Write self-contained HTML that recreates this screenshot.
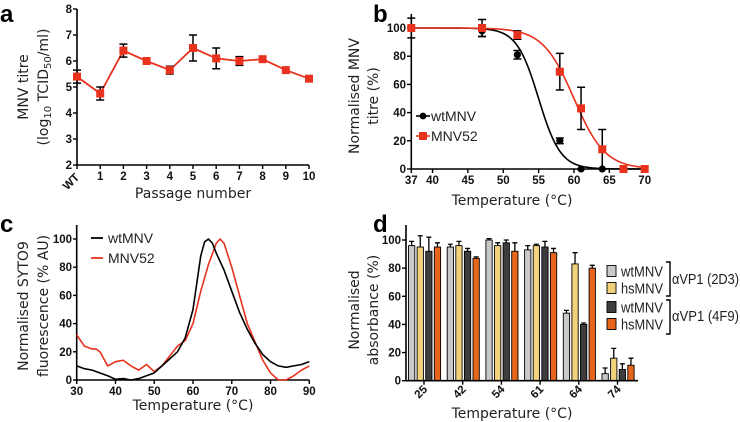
<!DOCTYPE html>
<html><head><meta charset="utf-8">
<style>
html,body{margin:0;padding:0;background:#fff;}
svg{display:block;font-family:"Liberation Sans",sans-serif;}
.tk{font-size:11.5px;font-weight:bold;fill:#111;}
.tt{font-size:14px;fill:#222;font-family:"DejaVu Sans",sans-serif;}
.pl{font-size:24px;font-weight:bold;fill:#000;}
.lg{font-size:14px;fill:#222;}
.lg2{font-size:15px;fill:#222;}
</style></head>
<body>
<svg id="fig" width="740" height="422" viewBox="0 0 740 422" xmlns="http://www.w3.org/2000/svg">
<g id="A"></g>
<g id="B"></g>
<g id="C"></g>
<g id="D"></g>
</svg>
<script>
// ---- Panel a data
const aPassages = ["WT","1","2","3","4","5","6","7","8","9","10"];
const aTitre = [5.4,4.75,6.4,6.0,5.65,6.5,6.1,6.0,6.07,5.65,5.32];
const aErr = [0.25,0.25,0.25,0,0.15,0.5,0.4,0.17,0,0,0];
const aYTicks = [2,3,4,5,6,7,8];
// ---- Panel b data
const bTemps = [37,47,52,58,61,64,67,70];
const bWt = [100,98,81,20,0,0,0,0];
const bWtErr = [7,4,3,2,0,0,0,0];
const bM52 = [100,100,95,69,43,14,0,0];
const bM52Err = [0,6,3,13,15,14,0,0];
const bXTicks = [37,40,45,50,55,60,65,70];
const bYTicks = [0,20,40,60,80,100];
const bFitWt = [55,1.55];
const bFitM52 = [60,2.2];
// ---- Panel c data
const cTempW = [30,32,34,36,38,40,42,44,46,48,50,52,54,56,58,60,62,63,64,65,66,68,70,72,74,76,78,80,82,84,86,88,90];
const cWt = [10,8,7,5,3,0.5,1,0,1,3,5,10,15,20,30,50,88,98,100,97,90,78,63,48,36,26,18,13,10,9,10,11,13];
const cTempR = [30,32,34,35,36,38,40,42,44,46,48,50,52,54,56,58,60,62,64,66,67,68,70,72,74,76,78,80,82,84,86,88,90];
const cM52 = [32,24,22,22,20,10,13,14,10,7,11,6,10,17,24,28,40,63,82,97,100,97,80,60,40,27,14,5,0,0,3,7,10];
const cXTicks = [30,40,50,60,70,80,90];
const cYTicks = [0,20,40,60,80,100];
// ---- Panel d data
const dGroups = ["25","42","54","61","64","74"];
const dWt2D3 = [96,95,100,93,48,5];
const dWt2D3Err = [3,2,1,3,2,4];
const dHs2D3 = [95,96,96,96,83,16];
const dHs2D3Err = [8,3,2,1,8,7];
const dWt4F9 = [92,92,98,95,40,8];
const dWt4F9Err = [10,2,2,4,1,4];
const dHs4F9 = [95,87,92,91,80,11];
const dHs4F9Err = [3,1,6,3,2,5];
const dYTicks = [0,20,40,60,80,100];

const NS="http://www.w3.org/2000/svg";
function el(parent,tag,attrs,text){const e=document.createElementNS(NS,tag);for(const k in attrs)e.setAttribute(k,attrs[k]);if(text!==undefined)e.textContent=text;parent.appendChild(e);return e;}
const RED="#e8321e";

// ===== Panel A
(function(){
const g=document.getElementById('A');
const x=i=>77+i*23.2, y=v=>165-(v-2)*26;
const t=el(g,'text',{x:0,y:22,class:'pl'},'a');

let ax=el(g,'path',{d:`M77,9V165H309`,stroke:'#000','stroke-width':1.6,fill:'none'});

aYTicks.forEach(v=>{el(g,'line',{x1:73,x2:77,y1:y(v),y2:y(v),stroke:'#000','stroke-width':1.4});
 const l=el(g,'text',{x:72,y:y(v)+4,class:'tk','text-anchor':'end'},v);
 });
aPassages.forEach((p,i)=>{el(g,'line',{x1:x(i),x2:x(i),y1:165,y2:169,stroke:'#000','stroke-width':1.4});
 let l;
 if(i===0) l=el(g,'text',{x:x(i)+3,y:178,class:'tk','text-anchor':'end',transform:`rotate(-45 ${x(i)+3} 178)`},p);
 else l=el(g,'text',{x:x(i),y:180,class:'tk','text-anchor':'middle'},p);
 });
const ln=el(g,'polyline',{points:aTitre.map((v,i)=>x(i)+','+y(v)).join(' '),stroke:RED,'stroke-width':1.8,fill:'none'});

aTitre.forEach((v,i)=>{if(aErr[i]>0){const e=aErr[i];
 el(g,'path',{d:`M${x(i)},${y(v+e)}V${y(v-e)}M${x(i)-4},${y(v+e)}h8M${x(i)-4},${y(v-e)}h8`,stroke:'#000','stroke-width':1.5,fill:'none'});}
 const m=el(g,'rect',{x:x(i)-4,y:y(v)-4,width:8,height:8,fill:RED});
 });
let tt=el(g,'text',{x:193,y:198,class:'tt','text-anchor':'middle'},'Passage number');

tt=el(g,'text',{x:0,y:0,class:'tt','text-anchor':'middle',transform:'translate(28,87) rotate(-90)'},'MNV titre');

tt=el(g,'text',{x:0,y:0,class:'tt','text-anchor':'middle',transform:'translate(48,87) rotate(-90)'});

tt.innerHTML='(log<tspan font-size="10" dy="3">10</tspan><tspan dy="-3"> TCID</tspan><tspan font-size="10" dy="3">50</tspan><tspan dy="-3">/ml)</tspan>';
})();

// ===== Panel B
(function(){
const g=document.getElementById('B');
const x=v=>411.3+(v-37)*(233.4/33), y=v=>169-v*1.41;
let t=el(g,'text',{x:373,y:22,class:'pl'},'b');

let ax=el(g,'path',{d:`M411.3,14V169H645`,stroke:'#000','stroke-width':1.6,fill:'none'});

bYTicks.forEach(v=>{el(g,'line',{x1:407,x2:411,y1:y(v),y2:y(v),stroke:'#000','stroke-width':1.4});
 const l=el(g,'text',{x:406,y:y(v)+4,class:'tk','text-anchor':'end'},v);
 });
bXTicks.forEach(v=>{el(g,'line',{x1:x(v),x2:x(v),y1:169,y2:173,stroke:'#000','stroke-width':1.4});
 const l=el(g,'text',{x:x(v),y:184,class:'tk','text-anchor':'middle'},v);
 });
function fit(p,col,name){let pts=[];for(let T=37;T<=70;T+=0.25){pts.push(x(T)+','+y(100/(1+Math.exp((T-p[0])/p[1]))));}
 const c=el(g,'polyline',{points:pts.join(' '),stroke:col,'stroke-width':1.6,fill:'none'});
 }
fit(bFitWt,'#000','wtmnv-fit-curve');fit(bFitM52,RED,'mnv52-fit-curve');
function pts(vals,errs,col,sq,name){vals.forEach((v,i)=>{const T=bTemps[i],e=errs[i];
 if(e>0)el(g,'path',{d:`M${x(T)},${y(v+e)}V${y(v-e)}M${x(T)-4},${y(v+e)}h8M${x(T)-4},${y(v-e)}h8`,stroke:'#000','stroke-width':1.5,fill:'none'});
 const m=sq?el(g,'rect',{x:x(T)-4,y:y(v)-4,width:8,height:8,fill:col}):el(g,'circle',{cx:x(T),cy:y(v),r:3.6,fill:col});
 });}
pts(bWt,bWtErr,'#000',false,'wtmnv-point');pts(bM52,bM52Err,RED,true,'mnv52-point');
const lg=el(g,'g',{});
el(lg,'line',{x1:416,x2:430,y1:116,y2:116,stroke:'#000','stroke-width':1.6});el(lg,'circle',{cx:423,cy:116,r:3.4,fill:'#000'});
el(lg,'text',{x:431,y:121,class:'lg'},'wtMNV');
el(lg,'line',{x1:416,x2:430,y1:136,y2:136,stroke:RED,'stroke-width':1.6});el(lg,'rect',{x:419,y:132,width:8,height:8,fill:RED});
el(lg,'text',{x:431,y:141,class:'lg'},'MNV52');
let tt=el(g,'text',{x:512,y:205,class:'tt','text-anchor':'middle'},'Temperature (°C)');

tt=el(g,'text',{x:0,y:0,class:'tt','text-anchor':'middle',transform:'translate(359,96) rotate(-90)'},'Normalised MNV');

tt=el(g,'text',{x:0,y:0,class:'tt','text-anchor':'middle',transform:'translate(378,96) rotate(-90)'},'titre (%)');

})();

// ===== Panel C
(function(){
const g=document.getElementById('C');
const x=v=>76.7+(v-30)*(232.6/60), y=v=>380-v*1.41;
let t=el(g,'text',{x:0,y:232,class:'pl'},'c');

let ax=el(g,'path',{d:`M76.7,225V380H309.3`,stroke:'#000','stroke-width':1.6,fill:'none'});

cYTicks.forEach(v=>{el(g,'line',{x1:73,x2:77,y1:y(v),y2:y(v),stroke:'#000','stroke-width':1.4});
 const l=el(g,'text',{x:72,y:y(v)+4,class:'tk','text-anchor':'end'},v);
 });
cXTicks.forEach(v=>{el(g,'line',{x1:x(v),x2:x(v),y1:380,y2:384,stroke:'#000','stroke-width':1.4});
 const l=el(g,'text',{x:x(v),y:395,class:'tk','text-anchor':'middle'},v);
 });
let c=el(g,'polyline',{points:cM52.map((v,i)=>x(cTempR[i])+','+y(v)).join(' '),stroke:RED,'stroke-width':1.6,fill:'none','stroke-linejoin':'round'});

c=el(g,'polyline',{points:cWt.map((v,i)=>x(cTempW[i])+','+y(v)).join(' '),stroke:'#000','stroke-width':1.6,fill:'none','stroke-linejoin':'round'});

const lg=el(g,'g',{});
el(lg,'line',{x1:91,x2:103,y1:238,y2:238,stroke:'#000','stroke-width':1.8});
el(lg,'text',{x:108,y:243,class:'lg'},'wtMNV');
el(lg,'line',{x1:91,x2:103,y1:258,y2:258,stroke:RED,'stroke-width':1.8});
el(lg,'text',{x:108,y:263,class:'lg'},'MNV52');
let tt=el(g,'text',{x:193,y:410,class:'tt','text-anchor':'middle'},'Temperature (°C)');

tt=el(g,'text',{x:0,y:0,class:'tt','text-anchor':'middle',transform:'translate(28,306) rotate(-90)'},'Normalised SYTO9');

tt=el(g,'text',{x:0,y:0,class:'tt','text-anchor':'middle',transform:'translate(48,306) rotate(-90)'},'fluorescence (% AU)');

})();

// ===== Panel D
(function(){
const g=document.getElementById('D');
const gw=38.7, x0=406, y=v=>380.7-v*1.407;
let t=el(g,'text',{x:373,y:232,class:'pl'},'d');

dYTicks.forEach(v=>{el(g,'line',{x1:402,x2:406,y1:y(v),y2:y(v),stroke:'#000','stroke-width':1.4});
 const l=el(g,'text',{x:401,y:y(v)+4,class:'tk','text-anchor':'end'},v);
 });
const series=[[dWt2D3,dWt2D3Err,'#c8c9c8','wtmnv-2d3-bar'],[dHs2D3,dHs2D3Err,'#f2d27c','hsmnv-2d3-bar'],[dWt4F9,dWt4F9Err,'#3d3d3d','wtmnv-4f9-bar'],[dHs4F9,dHs4F9Err,'#e8661c','hsmnv-4f9-bar']];
dGroups.forEach((lab,gi)=>{
 const gx=x0+gi*gw+2.5;
 series.forEach((s,si)=>{const v=s[0][gi],e=s[1][gi],bx=gx+si*8.6,bw=6.3;
  el(g,'path',{d:`M${bx+bw/2},${y(v)}V${y(v+e)}M${bx+bw/2-2.5},${y(v+e)}h5`,stroke:'#000','stroke-width':1.3,fill:'none'});
  const r=el(g,'rect',{x:bx,y:y(v),width:bw,height:380.7-y(v),fill:s[2],stroke:'#000','stroke-width':0.9});
  });
 const cx=gx+15.5;
 el(g,'line',{x1:cx,x2:cx,y1:380.7,y2:384.7,stroke:'#000','stroke-width':1.4});
 const l=el(g,'text',{x:cx+4,y:390,class:'tk','text-anchor':'end',transform:`rotate(-45 ${cx+4} 390)`},lab);
 });
let ax=el(g,'path',{d:`M406,225V380.7H638`,stroke:'#000','stroke-width':1.6,fill:'none'});

const lg=el(g,'g',{});
const rows=[[271,'#c8c9c8','wtMNV'],[288,'#f2d27c','hsMNV'],[307,'#3d3d3d','wtMNV'],[324,'#e8661c','hsMNV']];
rows.forEach(r=>{el(lg,'rect',{x:607,y:r[0]-5.5,width:9,height:11,fill:r[1],stroke:'#000','stroke-width':0.9});
 el(lg,'text',{x:621,y:r[0]+5.5,class:'lg2',textLength:42,lengthAdjust:'spacingAndGlyphs'},r[2]);});
el(lg,'path',{d:'M666,262h4V296h-4M666,300h4V334h-4',stroke:'#000','stroke-width':1.4,fill:'none'});
el(lg,'text',{x:672,y:284,class:'lg2',textLength:67,lengthAdjust:'spacingAndGlyphs'},'αVP1 (2D3)');
el(lg,'text',{x:672,y:321,class:'lg2',textLength:67,lengthAdjust:'spacingAndGlyphs'},'αVP1 (4F9)');
let tt=el(g,'text',{x:512,y:418,class:'tt','text-anchor':'middle'},'Temperature (°C)');

tt=el(g,'text',{x:0,y:0,class:'tt','text-anchor':'middle',transform:'translate(359,310) rotate(-90)'},'Normalised');

tt=el(g,'text',{x:0,y:0,class:'tt','text-anchor':'middle',transform:'translate(378,310) rotate(-90)'},'absorbance (%)');

})();
</script>
</body></html>
